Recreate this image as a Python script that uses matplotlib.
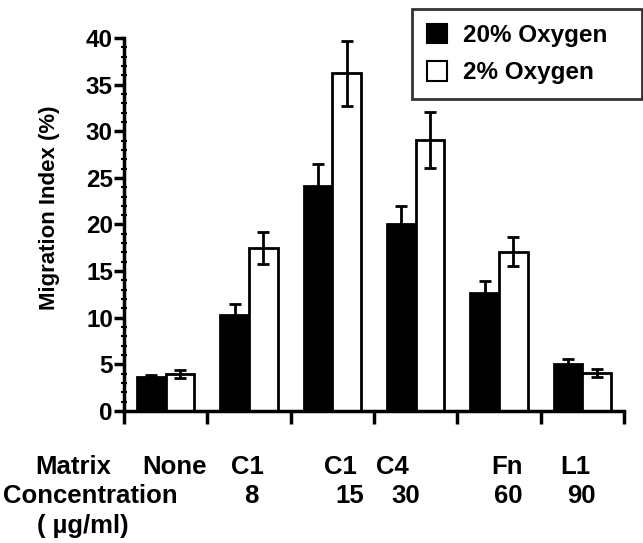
import matplotlib.pyplot as plt
from matplotlib.patches import Patch
from matplotlib.ticker import MultipleLocator
import numpy as np

plt.rcParams['font.family'] = ['Liberation Sans', 'DejaVu Sans']
plt.rcParams['font.weight'] = 'bold'

# data
matrix_labels = ["None", "C1", "C1", "C4", "Fn", "L1"]
conc_labels = ["", "8", "15", "30", "60", "90"]
oxygen_20 = [3.6, 10.3, 24.1, 20.1, 12.7, 5.0]
oxygen_20_err = [0.3, 1.2, 2.4, 1.9, 1.2, 0.6]
oxygen_2 = [4.0, 17.5, 36.2, 29.1, 17.1, 4.1]
oxygen_2_err = [0.45, 1.7, 3.5, 3.0, 1.6, 0.45]

W, H = 643, 543
fig = plt.figure(figsize=(W / 100, H / 100), dpi=100)
ax = fig.add_axes([124 / W, 1 - 411 / H, 500 / W, 373 / H])

x = np.arange(len(matrix_labels))
bw = 0.345
err_kw = dict(ecolor='black', capsize=4, elinewidth=2, capthick=2)
ax.bar(x - bw / 2, oxygen_20, bw, yerr=oxygen_20_err, color='black',
       edgecolor='black', linewidth=2, error_kw=err_kw, label='20% Oxygen')
ax.bar(x + bw / 2, oxygen_2, bw, yerr=oxygen_2_err, color='white',
       edgecolor='black', linewidth=2, error_kw=err_kw, label='2% Oxygen')

ax.set_xlim(-0.5, len(x) - 0.5)
ax.set_ylim(0, 40)
ax.spines['top'].set_visible(False)
ax.spines['right'].set_visible(False)
ax.spines['left'].set_linewidth(2.5)
ax.spines['bottom'].set_linewidth(2.5)
ax.set_xticks(np.arange(-0.5, len(x), 1.0))
ax.set_xticklabels([])
ax.tick_params(axis='x', length=9, width=2.5, direction='out')
ax.yaxis.set_major_locator(MultipleLocator(5))
ax.yaxis.set_minor_locator(MultipleLocator(1))
ax.tick_params(axis='y', which='major', length=7, width=2.5, pad=1,
               labelsize=17.5)
ax.tick_params(axis='y', which='minor', length=5, width=1.5, direction='inout')
for lbl in ax.get_yticklabels():
    lbl.set_fontweight('bold')
fig.text(50 / W, 1 - 208 / H, 'Migration Index (%)', rotation=90,
         ha='center', va='center', fontsize=16, fontweight='bold')

# category text under the axis
fs = 18.5
fig.text(73 / W, 1 - 467 / H, 'Matrix', ha='center', va='center', fontsize=fs)
for lbl, px in zip(matrix_labels, [174, 247, 340, 392, 507, 575]):
    fig.text(px / W, 1 - 467 / H, lbl, ha='center', va='center', fontsize=fs)
fig.text(3 / W, 1 - 496 / H, 'Concentration', ha='left', va='center', fontsize=fs)
for lbl, px in zip(conc_labels, [174, 251, 350, 406, 508, 581]):
    fig.text(px / W, 1 - 496 / H, lbl, ha='center', va='center', fontsize=fs)
fig.text(37 / W, 1 - 526 / H, '( \u00b5g/ml)', ha='left', va='center', fontsize=fs)

handles = [Patch(facecolor='black', edgecolor='black', linewidth=1.5),
           Patch(facecolor='white', edgecolor='black', linewidth=1.5)]
leg = fig.legend(handles, ['20% Oxygen', '2% Oxygen'], loc='upper left',
                 bbox_to_anchor=(412 / W, 1 - 9 / H, 230 / W, 0),
                 mode='expand', borderaxespad=0, fontsize=17.5,
                 handlelength=0.85, handleheight=0.85, handletextpad=0.65,
                 labelspacing=0.6, borderpad=0.6, fancybox=False)
leg.get_frame().set_edgecolor('black')
leg.get_frame().set_linewidth(2)
for t in leg.get_texts():
    t.set_fontweight('bold')

fig.savefig('out.png', dpi=100)
